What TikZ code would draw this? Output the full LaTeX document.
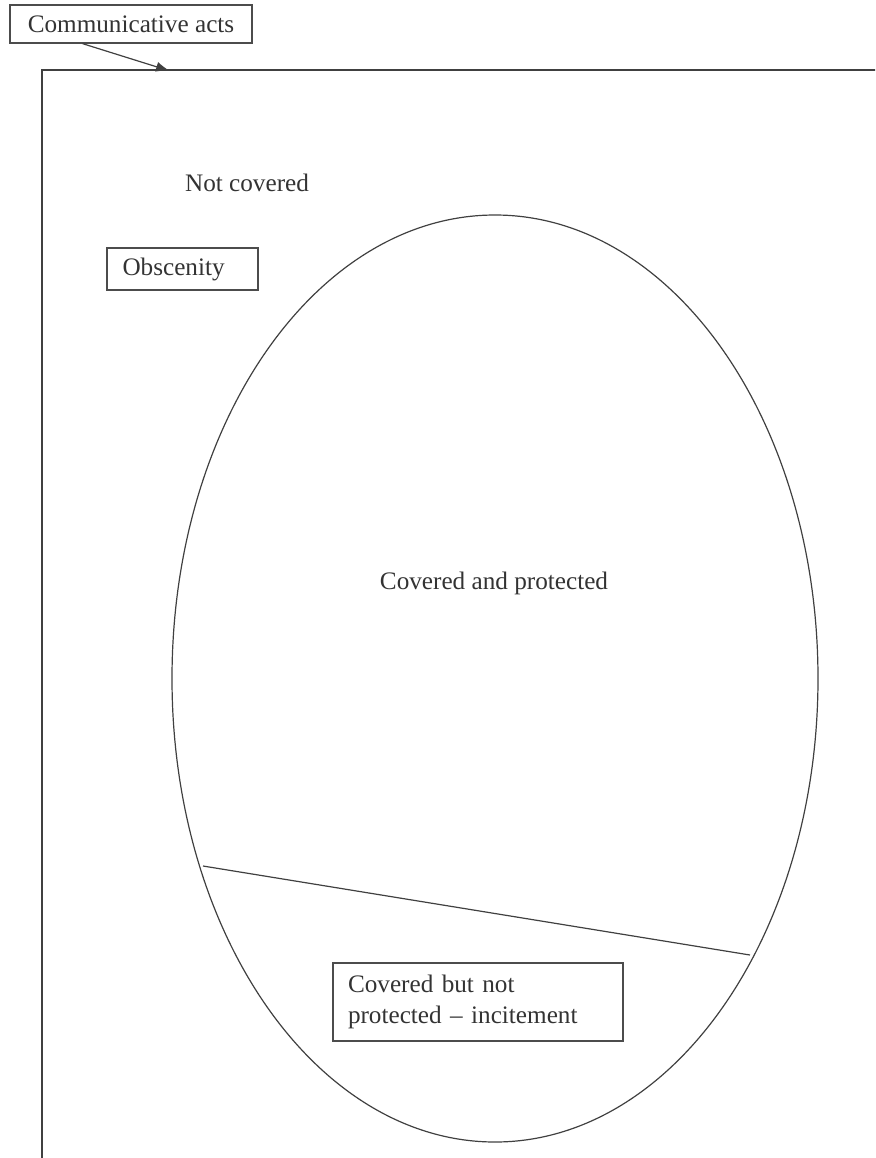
\documentclass[tikz,border=0pt]{standalone}
\usepackage{fontspec}
\setmainfont{Liberation Serif}
\usetikzlibrary{shapes.geometric,arrows.meta,positioning}

\begin{document}
\begin{tikzpicture}[x=0.5pt, y=-0.5pt,
    every node/.style = {font=\fontsize{12.6}{15.5}\selectfont, text=black!80},
    box/.style = {draw=black!70, line width=0.6pt, inner sep=0pt, align=left},
    line/.style = {draw=black!75, line width=0.6pt}]
    \useasboundingbox (0,0) rectangle (875,1158);
    % frame of all acts
    \begin{scope}
        \clip (0,0) rectangle (875,1158);
        \draw[line] (42,70) rectangle (890,1162);
    \end{scope}
    \node[box, minimum width=121pt, minimum height=19pt] (acts) at (131,24) {Communicative acts};
    \coordinate (tip) at (170,71);
    \draw[line, -{Latex[length=7pt,width=5pt]}] (acts.202) -- (tip);
    \node (nc) at (247,183) {Not covered};
    \node[box, minimum width=75.5pt, minimum height=21pt, text width=60pt] (obs) at (182.5,269) {Obscenity};
    \node[draw=black!75, line width=0.6pt, ellipse, inner sep=0pt, minimum width=323pt, minimum height=463.5pt] (oval) at (495,678.5) {};
    \node (cp) at (494,583) {Covered and protected};
    \coordinate (cutl) at (203,866);
    \coordinate (cutr) at (750,955);
    \draw[line] (cutl) -- (cutr);
    \node[box, minimum width=145pt, minimum height=39pt, text width=130pt] (inc) at (478,1002) {Covered but not\\protected -- incitement};
\end{tikzpicture}
\end{document}
